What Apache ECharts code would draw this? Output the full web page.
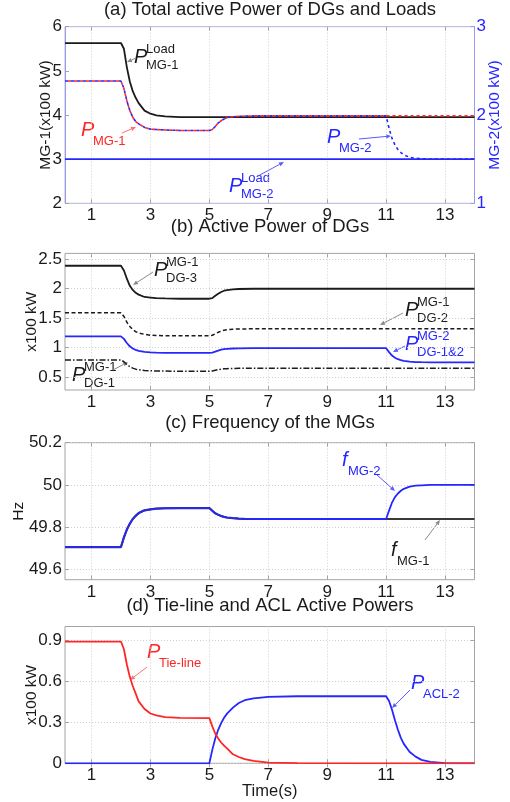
<!DOCTYPE html>
<html>
<head>
<meta charset="utf-8">
<script src="https://cdn.jsdelivr.net/npm/echarts@6/dist/echarts.min.js"></script>
<style>
html, body { margin: 0; padding: 0; background: #fff; }
#chart { width: 510px; height: 802px; }
</style>
</head>
<body>
<div id="chart"></div>
<script>
// ---- data (time in s) ----
// (a) left axis MG-1 (x100 kW), right axis MG-2 (x100 kW)
var loadMG1 = [[0.1,5.63],[2,5.63],[2.1,5.50],[2.2,5.08],[2.3,4.76],[2.4,4.54],[2.5,4.39],[2.6,4.27],[2.8,4.10],[3,4.03],[3.2,3.99],[3.5,3.97],[4,3.95],[14,3.95]];
var pMG1 = [[0.1,4.77],[2,4.77],[2.1,4.60],[2.2,4.32],[2.3,4.10],[2.4,3.95],[2.5,3.85],[2.6,3.80],[2.8,3.72],[3,3.68],[3.2,3.67],[3.5,3.66],[4,3.65],[5,3.65],[5.1,3.67],[5.2,3.74],[5.3,3.82],[5.4,3.87],[5.5,3.91],[5.6,3.94],[5.8,3.96],[6,3.97],[6.5,3.98],[14,3.98]];
var pMG2 = [[0.1,2.385],[2,2.385],[2.1,2.30],[2.2,2.16],[2.3,2.05],[2.4,1.975],[2.5,1.925],[2.6,1.90],[2.8,1.86],[3,1.84],[3.2,1.835],[3.5,1.83],[4,1.825],[5,1.825],[5.1,1.835],[5.2,1.87],[5.3,1.91],[5.4,1.935],[5.5,1.955],[5.6,1.97],[5.8,1.98],[6,1.985],[6.5,1.99],[11,1.99],[11.1,1.85],[11.2,1.735],[11.3,1.66],[11.4,1.61],[11.5,1.575],[11.6,1.55],[11.8,1.52],[12,1.51],[12.2,1.505],[12.5,1.5],[14,1.5]];
var loadMG2 = [[0.1,1.5],[14,1.5]];

// (b) DG active powers (x100 kW)
var dg3MG1 = [[0.1,2.39],[2,2.39],[2.1,2.31],[2.2,2.17],[2.3,2.05],[2.4,1.98],[2.5,1.93],[2.6,1.90],[2.8,1.86],[3,1.85],[3.2,1.84],[3.5,1.835],[4,1.83],[5,1.83],[5.1,1.84],[5.2,1.88],[5.3,1.915],[5.4,1.945],[5.5,1.966],[5.6,1.978],[5.8,1.99],[6,1.995],[6.5,2.0],[14,2.0]];
var dg2MG1 = [[0.1,1.59],[2,1.59],[2.1,1.53],[2.2,1.43],[2.3,1.36],[2.4,1.305],[2.5,1.27],[2.6,1.25],[2.8,1.225],[3,1.21],[3.2,1.206],[3.5,1.202],[4,1.2],[5,1.2],[5.1,1.21],[5.2,1.234],[5.3,1.26],[5.4,1.28],[5.5,1.296],[5.6,1.304],[5.8,1.313],[6,1.316],[6.5,1.32],[14,1.32]];
var dg1MG1 = [[0.1,0.79],[2,0.79],[2.1,0.76],[2.2,0.714],[2.3,0.676],[2.4,0.651],[2.5,0.634],[2.6,0.625],[2.8,0.611],[3,0.606],[3.5,0.601],[4,0.6],[5,0.6],[5.1,0.603],[5.2,0.614],[5.3,0.625],[5.4,0.634],[5.5,0.64],[5.6,0.643],[5.8,0.647],[6,0.648],[6.5,0.65],[14,0.65]];
var dg12MG2 = [[0.1,1.19],[2,1.19],[2.1,1.148],[2.2,1.078],[2.3,1.022],[2.4,0.986],[2.5,0.96],[2.6,0.946],[2.8,0.927],[3,0.918],[3.2,0.914],[3.5,0.911],[4,0.91],[5,0.91],[5.1,0.916],[5.2,0.932],[5.3,0.95],[5.4,0.964],[5.5,0.974],[5.6,0.98],[5.8,0.985],[6,0.988],[6.5,0.99],[11,0.99],[11.1,0.923],[11.2,0.865],[11.3,0.829],[11.4,0.803],[11.5,0.786],[11.6,0.774],[11.8,0.761],[12,0.755],[12.2,0.752],[12.5,0.75],[14,0.75]];

// (c) frequencies (Hz)
var fMG2 = [[0.1,49.705],[2,49.705],[2.1,49.751],[2.2,49.788],[2.3,49.816],[2.4,49.838],[2.5,49.853],[2.6,49.866],[2.8,49.879],[3,49.884],[3.2,49.887],[3.5,49.889],[4,49.89],[5,49.89],[5.1,49.877],[5.2,49.865],[5.3,49.858],[5.4,49.852],[5.5,49.848],[5.6,49.845],[5.8,49.842],[6,49.84],[6.2,49.839],[6.5,49.838],[11,49.838],[11.1,49.878],[11.2,49.916],[11.3,49.942],[11.4,49.959],[11.5,49.972],[11.6,49.981],[11.8,49.992],[12,49.996],[12.2,49.998],[12.5,50.0],[14,50.0]];
var fMG1 = [[0.1,49.705],[2,49.705],[2.1,49.751],[2.2,49.788],[2.3,49.816],[2.4,49.838],[2.5,49.853],[2.6,49.866],[2.8,49.879],[3,49.884],[3.2,49.887],[3.5,49.889],[4,49.89],[5,49.89],[5.1,49.877],[5.2,49.865],[5.3,49.858],[5.4,49.852],[5.5,49.848],[5.6,49.845],[5.8,49.842],[6,49.84],[6.2,49.839],[6.5,49.838],[14,49.838]];

// (d) tie-line and ACL powers (x100 kW)
var pTieLine = [[0.1,0.89],[2,0.89],[2.1,0.834],[2.2,0.722],[2.3,0.632],[2.4,0.565],[2.5,0.509],[2.6,0.453],[2.8,0.397],[3,0.364],[3.2,0.35],[3.5,0.338],[4,0.332],[5,0.33],[5.1,0.27],[5.2,0.218],[5.3,0.182],[5.4,0.152],[5.5,0.129],[5.6,0.109],[5.8,0.066],[6,0.046],[6.2,0.03],[6.5,0.017],[7,0.005],[8,0.001],[14,0]];
var pACL2 = [[0.1,0],[5,0],[5.1,0.098],[5.2,0.181],[5.3,0.245],[5.4,0.294],[5.5,0.333],[5.6,0.363],[5.8,0.407],[6,0.441],[6.2,0.461],[6.5,0.475],[7,0.485],[8,0.49],[11,0.49],[11.1,0.456],[11.2,0.392],[11.3,0.314],[11.4,0.245],[11.5,0.186],[11.6,0.142],[11.8,0.083],[12,0.049],[12.2,0.025],[12.5,0.01],[13,0.002],[14,0]];

// tick labels
var xTicks = [1, 3, 5, 7, 9, 11, 13];
var yTicksA = [2, 3, 4, 5, 6];
var yTicksA2 = [1, 2, 3];
var yTicksB = [0.5, 1, 1.5, 2, 2.5];
var yTicksC = [49.6, 49.8, 50, 50.2];
var yTicksD = [0, 0.3, 0.6, 0.9];

var titles = ['(a) Total active Power of DGs and Loads', '(b) Active Power of DGs',
              '(c) Frequency of the MGs', '(d) Tie-line and ACL Active Powers'];

// ---- styling ----
var FONT = '"Liberation Sans", Arial, Helvetica, sans-serif';
var BLACK = '#1b1b1b', BLUE = '#2626ff', RED = '#ff2626';
var GRID_LINE = '#cfcfcf', FRAME = '#a4a4a4', FRAME_A = '#9a9af0';

var grids = [
  { left: 65, right: 35.5, top: 26.7, height: 176.6 },
  { left: 65, right: 35.5, top: 253.4, height: 136.6 },
  { left: 65, right: 35.5, top: 442.7, height: 137 },
  { left: 65, right: 35.5, top: 626.5, height: 136.8 }
];
var titleY = [9.5, 226.7, 423, 605.7];

// annotation labels: x = left of main letter, y = its vertical centre (px)
var notes = [
  { x: 134, y: 57, main: 'P', sup: 'Load', sub: 'MG-1', color: BLACK },
  { x: 81, y: 130, main: 'P', sub: 'MG-1', color: RED },
  { x: 327, y: 137, main: 'P', sub: 'MG-2', color: BLUE },
  { x: 229, y: 186, main: 'P', sup: 'Load', sub: 'MG-2', color: BLUE },
  { x: 154, y: 270, main: 'P', sup: 'MG-1', sub: 'DG-3', color: BLACK },
  { x: 405, y: 310, main: 'P', sup: 'MG-1', sub: 'DG-2', color: BLACK },
  { x: 405, y: 344, main: 'P', sup: 'MG-2', sub: 'DG-1&2', color: BLUE },
  { x: 72, y: 375, main: 'P', sup: 'MG-1', sub: 'DG-1', color: BLACK },
  { x: 342, y: 460, main: 'f', sub: 'MG-2', color: BLUE },
  { x: 391, y: 550, main: 'f', sub: 'MG-1', color: BLACK },
  { x: 147, y: 652, main: 'P', sub: 'Tie-line', color: RED },
  { x: 411, y: 683, main: 'P', sub: 'ACL-2', color: BLUE }
];
var arrows = [
  { from: [136, 58], to: [127, 62], color: '#8a8a8a' },
  { from: [122, 133], to: [136, 127], color: '#ff7070' },
  { from: [359, 139], to: [391, 136], color: '#5a5aff' },
  { from: [258, 176], to: [284, 162], color: '#5a5aff' },
  { from: [153, 272], to: [133, 285], color: '#8a8a8a' },
  { from: [403, 313], to: [380, 325], color: '#8a8a8a' },
  { from: [405, 346], to: [393, 352], color: '#5a5aff' },
  { from: [113, 370], to: [128, 362], color: '#8a8a8a' },
  { from: [377, 475], to: [395, 491], color: '#5a5aff' },
  { from: [425, 540], to: [440, 520], color: '#8a8a8a' },
  { from: [147, 667], to: [130, 680], color: '#ff7070' },
  { from: [410, 690], to: [392, 708], color: '#5a5aff' }
];

function xAxes(i, name) {
  return [{
    type: 'value', gridIndex: i, position: 'bottom', min: 0.1, max: 14,
    axisLine: { show: false },
    axisTick: { show: true, inside: true, length: 4, customValues: xTicks, lineStyle: { color: FRAME } },
    axisLabel: { customValues: xTicks, color: '#1a1a1a', fontSize: 17, fontFamily: FONT, margin: 4 },
    splitLine: { show: true, lineStyle: { color: GRID_LINE, type: [1, 2] } },
    name: name || '', nameLocation: 'middle', nameGap: 20, nameMoveOverlap: false,
    nameTextStyle: { color: '#1a1a1a', fontSize: 16.5, fontFamily: FONT }
  }, {
    type: 'value', gridIndex: i, position: 'top', min: 0.1, max: 14,
    axisLine: { show: false },
    axisTick: { show: true, inside: true, length: 4, customValues: xTicks, lineStyle: { color: FRAME } },
    axisLabel: { show: false }, splitLine: { show: false }
  }];
}

function yAxes(i, min, max, ticks, name, gap, grid) {
  return [{
    type: 'value', gridIndex: i, position: 'left', min: min, max: max,
    axisLine: { show: false },
    axisTick: { show: true, inside: true, length: 4, customValues: ticks, lineStyle: { color: FRAME } },
    axisLabel: { customValues: ticks, color: '#1a1a1a', fontSize: 17, fontFamily: FONT, margin: 3 },
    splitLine: { show: grid, lineStyle: { color: GRID_LINE, type: [1, 2] } },
    name: name, nameLocation: 'middle', nameGap: gap, nameMoveOverlap: false,
    nameTextStyle: { color: '#1a1a1a', fontSize: 15.5, fontFamily: FONT }
  }, {
    type: 'value', gridIndex: i, position: 'right', min: min, max: max,
    axisLine: { show: false },
    axisTick: { show: true, inside: true, length: 4, customValues: ticks, lineStyle: { color: FRAME } },
    axisLabel: { show: false }, splitLine: { show: false }
  }];
}

function line(xi, yi, data, color, width, type, offset) {
  return {
    type: 'line', xAxisIndex: xi, yAxisIndex: yi, data: data,
    showSymbol: false, symbol: 'none', silent: true, animation: false,
    lineStyle: { color: color, width: width, type: type || 'solid', dashOffset: offset || 0 }
  };
}

var xAxis = [].concat(xAxes(0), xAxes(1), xAxes(2), xAxes(3, 'Time(s)'));

var yA = yAxes(0, 2, 6, yTicksA, 'MG-1(x100 kW)', 11, false);
yA[0].axisLine = { show: true, lineStyle: { color: FRAME_A } };
yA[1] = {
  type: 'value', gridIndex: 0, position: 'right', min: 1, max: 3,
  axisLine: { show: true, lineStyle: { color: FRAME_A } },
  axisTick: { show: true, inside: true, length: 4, customValues: yTicksA2, lineStyle: { color: FRAME_A } },
  axisLabel: { customValues: yTicksA2, color: BLUE, fontSize: 17, fontFamily: FONT, margin: 2 },
  splitLine: { show: false },
  name: 'MG-2(x100 kW)', nameLocation: 'middle', nameGap: 12, nameMoveOverlap: false,
  nameTextStyle: { color: BLUE, fontSize: 15.5, fontFamily: FONT }
};
var yAxis = [].concat(yA,
  yAxes(1, 0.28, 2.6, yTicksB, 'x100 kW', 25, true),
  yAxes(2, 49.55, 50.2, yTicksC, 'Hz', 38, true),
  yAxes(3, 0, 1.0, yTicksD, 'x100 kW', 25, true));

var graphic = [];
titles.forEach(function (t, i) {
  graphic.push({ type: 'text', x: 270, y: titleY[i], silent: true,
    style: { text: t, fill: '#1a1a1a', font: '18.5px ' + FONT, align: 'center', verticalAlign: 'middle' } });
});
notes.forEach(function (n) {
  var off = n.main === 'f' ? 6 : 12;
  graphic.push({ type: 'text', x: n.x, y: n.y, silent: true,
    style: { text: n.main, fill: n.color, font: 'italic 20px ' + FONT, align: 'left', verticalAlign: 'middle' } });
  if (n.sup) {
    graphic.push({ type: 'text', x: n.x + off, y: n.y - 8, silent: true,
      style: { text: n.sup, fill: n.color, font: '13px ' + FONT, align: 'left', verticalAlign: 'middle' } });
    graphic.push({ type: 'text', x: n.x + off, y: n.y + 8, silent: true,
      style: { text: n.sub, fill: n.color, font: '13px ' + FONT, align: 'left', verticalAlign: 'middle' } });
  } else {
    graphic.push({ type: 'text', x: n.x + off, y: n.y + 11, silent: true,
      style: { text: n.sub, fill: n.color, font: '13px ' + FONT, align: 'left', verticalAlign: 'middle' } });
  }
});
arrows.forEach(function (a) {
  var dx = a.to[0] - a.from[0], dy = a.to[1] - a.from[1];
  var len = Math.sqrt(dx * dx + dy * dy), ux = dx / len, uy = dy / len;
  var bx = a.to[0] - ux * 5, by = a.to[1] - uy * 5;
  graphic.push({ type: 'line', silent: true,
    shape: { x1: a.from[0], y1: a.from[1], x2: bx, y2: by },
    style: { stroke: a.color, lineWidth: 1 } });
  graphic.push({ type: 'polygon', silent: true,
    shape: { points: [a.to, [bx - uy * 2.2, by + ux * 2.2], [bx + uy * 2.2, by - ux * 2.2]] },
    style: { fill: a.color } });
});

var option = {
  backgroundColor: '#fff',
  animation: false,
  grid: grids.map(function (g, i) {
    return Object.assign({ show: true, borderColor: i === 0 ? '#b4b4d8' : FRAME, borderWidth: 1,
      backgroundColor: 'transparent', containLabel: false, outerBoundsMode: 'none' }, g);
  }),
  xAxis: xAxis,
  yAxis: yAxis,
  series: [
    line(0, 1, loadMG2, BLUE, 1.8),
    line(0, 0, loadMG1, BLACK, 1.8),
    line(0, 1, pMG2, BLUE, 1.6, [3, 3]),
    line(0, 0, pMG1, RED, 1.6, [3, 3], 3),
    line(2, 2, dg3MG1, BLACK, 1.8),
    line(2, 2, dg2MG1, BLACK, 1.5, [4, 2.5]),
    line(2, 2, dg1MG1, BLACK, 1.5, [6, 2, 1.5, 2]),
    line(2, 2, dg12MG2, BLUE, 1.8),
    line(4, 4, fMG1, '#3a3a3a', 2.2),
    line(4, 4, fMG2, BLUE, 1.8),
    line(6, 6, pACL2, BLUE, 1.8),
    line(6, 6, pTieLine, RED, 1.8)
  ],
  graphic: graphic
};

var chart = echarts.init(document.getElementById('chart'));
chart.setOption(option);
</script>
</body>
</html>
